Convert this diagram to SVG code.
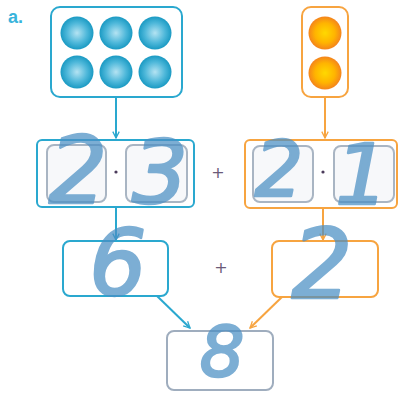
<svg xmlns="http://www.w3.org/2000/svg" width="399" height="393" viewBox="0 0 399 393">
  <defs>
    <radialGradient id="gBlue" cx="50%" cy="50%" r="50%">
      <stop offset="0" stop-color="#b4e3f2"/>
      <stop offset="0.6" stop-color="#4fb8da"/>
      <stop offset="1" stop-color="#1a9ac3"/>
    </radialGradient>
    <radialGradient id="gOrange" cx="50%" cy="50%" r="50%">
      <stop offset="0" stop-color="#ffd800"/>
      <stop offset="0.6" stop-color="#ffb400"/>
      <stop offset="1" stop-color="#f4841c"/>
    </radialGradient>
    <marker id="arBlue" viewBox="0 0 10 10" refX="9" refY="5" markerWidth="8" markerHeight="8" orient="auto" markerUnits="userSpaceOnUse">
      <path d="M1,1 L9,5 L1,9" fill="none" stroke="#2aa8cf" stroke-width="1.6"/>
    </marker>
    <marker id="arOrange" viewBox="0 0 10 10" refX="9" refY="5" markerWidth="8" markerHeight="8" orient="auto" markerUnits="userSpaceOnUse">
      <path d="M1,1 L9,5 L1,9" fill="none" stroke="#f7a440" stroke-width="1.6"/>
    </marker>
  </defs>
  <style>
    .bx { fill: #ffffff; stroke: #2aa8cf; stroke-width: 2; }
    .ox { fill: #ffffff; stroke: #f7a440; stroke-width: 2; }
    .gx { fill: #f7f8fa; stroke: #a9b5c3; stroke-width: 2; }
    .rx { fill: #ffffff; stroke: #9fadbe; stroke-width: 2; }
    .cb { stroke: #2aa8cf; stroke-width: 2; fill: none; }
    .co { stroke: #f7a440; stroke-width: 2; fill: none; }
    .op { font-family: "DejaVu Sans", sans-serif; font-size: 16px; fill: #6b5a78; text-anchor: middle; }
    .dot { fill: #4a3a5a; }
    .hw { font-family: "DejaVu Sans", sans-serif; font-style: italic; fill: #4b8fc4; stroke: #4b8fc4; stroke-width: 2.5; stroke-linejoin: round; opacity: 0.72; text-anchor: middle; }
  </style>

  <text x="8" y="23" font-family="Liberation Sans, sans-serif" font-weight="bold" font-size="18" fill="#39b4dc">a.</text>

  <!-- connectors -->
  <g id="connectors">
    <line class="cb" x1="116" y1="97" x2="116" y2="138" marker-end="url(#arBlue)"/>
    <line class="co" x1="325" y1="97" x2="325" y2="138" marker-end="url(#arOrange)"/>
    <line class="cb" x1="116" y1="207" x2="116" y2="240" marker-end="url(#arBlue)"/>
    <line class="co" x1="323" y1="208" x2="323" y2="240" marker-end="url(#arOrange)"/>
    <line class="cb" x1="157" y1="296" x2="190" y2="328" marker-end="url(#arBlue)"/>
    <line class="co" x1="283" y1="296" x2="250" y2="328" marker-end="url(#arOrange)"/>
  </g>

  <!-- six counters -->
  <g id="counters-blue">
    <rect class="bx" x="51" y="7" width="131" height="90" rx="9"/>
    <circle cx="77" cy="33" r="16.5" fill="url(#gBlue)"/>
    <circle cx="116" cy="33" r="16.5" fill="url(#gBlue)"/>
    <circle cx="155" cy="33" r="16.5" fill="url(#gBlue)"/>
    <circle cx="77" cy="72" r="16.5" fill="url(#gBlue)"/>
    <circle cx="116" cy="72" r="16.5" fill="url(#gBlue)"/>
    <circle cx="155" cy="72" r="16.5" fill="url(#gBlue)"/>
  </g>

  <!-- two counters -->
  <g id="counters-orange">
    <rect class="ox" x="302" y="7" width="46" height="90" rx="9"/>
    <circle cx="325" cy="33" r="16.5" fill="url(#gOrange)"/>
    <circle cx="325" cy="73" r="16.5" fill="url(#gOrange)"/>
  </g>

  <!-- 2 · 3 -->
  <g id="product-left">
    <rect class="bx" x="37" y="140" width="157" height="67" rx="5"/>
    <rect class="gx" x="47" y="145" width="59" height="57" rx="7"/>
    <rect class="gx" x="126" y="145" width="61" height="57" rx="7"/>
    <circle class="dot" cx="116" cy="172" r="1.6"/>
    <text class="hw" x="78" y="203" font-size="92">2</text>
    <text class="hw" x="160" y="203" font-size="88">3</text>
  </g>

  <text class="op" x="218" y="178">+</text>

  <!-- 2 · 1 -->
  <g id="product-right">
    <rect class="ox" x="245" y="140" width="152" height="68" rx="5"/>
    <rect class="gx" x="253" y="146" width="60" height="56" rx="7"/>
    <rect class="gx" x="334" y="146" width="60" height="56" rx="7"/>
    <circle class="dot" cx="323" cy="172" r="1.6"/>
    <text class="hw" x="279" y="196" font-size="76">2</text>
    <text class="hw" x="362" y="204" font-size="84">1</text>
  </g>

  <!-- 6 -->
  <g id="partial-left">
    <rect class="bx" x="63" y="241" width="105" height="55" rx="7"/>
    <text class="hw" x="118" y="295" font-size="90">6</text>
  </g>

  <text class="op" x="221" y="273">+</text>

  <!-- 2 -->
  <g id="partial-right">
    <rect class="ox" x="272" y="241" width="106" height="56" rx="7"/>
    <text class="hw" x="322" y="298" font-size="96">2</text>
  </g>

  <!-- 8 -->
  <g id="sum">
    <rect class="rx" x="167" y="331" width="106" height="59" rx="7"/>
    <text class="hw" x="222" y="376" font-size="70">8</text>
  </g>
</svg>
